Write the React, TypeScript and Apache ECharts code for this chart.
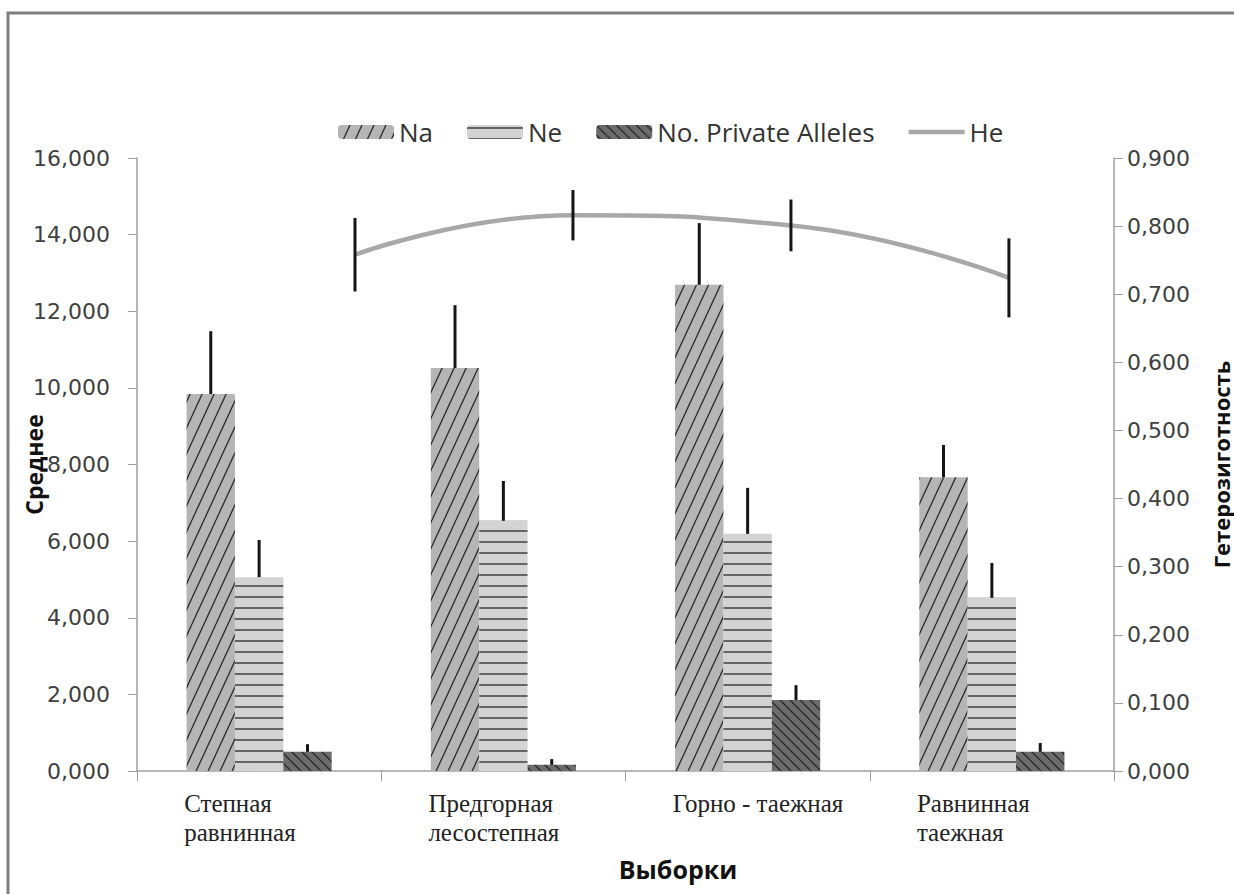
import React, { useEffect, useRef } from 'react';
import * as echarts from 'echarts';

// ---- data ----
const categories = ['Степная\nравнинная', 'Предгорная\nлесостепная', 'Горно - таежная', 'Равнинная\nтаежная'];
const naValues = [9.84, 10.52, 12.69, 7.67];
const naErrors = [1.64, 1.64, 1.61, 0.84];
const neValues = [5.06, 6.53, 6.19, 4.52];
const neErrors = [0.97, 1.04, 1.2, 0.91];
const privateValues = [0.5, 0.16, 1.85, 0.5];
const privateErrors = [0.2, 0.15, 0.39, 0.23];
const hePositions = [1, 2, 3, 4];
const heValues = [0.758, 0.816, 0.801, 0.724];
const heErrors = [0.054, 0.037, 0.038, 0.058];

const BAR_FRAC = 0.198;

function makePattern(w: number, h: number, bg: string, stroke: string, lw: number, draw: (ctx: CanvasRenderingContext2D, w: number, h: number) => void) {
  const s = 4;
  const c = document.createElement('canvas');
  c.width = w * s;
  c.height = h * s;
  const ctx = c.getContext('2d')!;
  ctx.scale(s, s);
  ctx.fillStyle = bg;
  ctx.fillRect(0, 0, w, h);
  ctx.strokeStyle = stroke;
  ctx.lineWidth = lw;
  ctx.beginPath();
  draw(ctx, w, h);
  ctx.stroke();
  return { image: c.toDataURL(), repeat: 'repeat', imageWidth: w, imageHeight: h } as any;
}

const fmt = (v: number) => v.toFixed(3).replace('.', ',');

export default function App() {
  const ref = useRef<HTMLDivElement>(null);
  useEffect(() => {
    if (!ref.current) return;
    const chart = echarts.init(ref.current, undefined, { renderer: 'svg' });

    const naPattern = makePattern(12, 26, '#b5b5b5', '#2a2a2a', 1.3, (ctx, w, h) => {
      for (let k = -1; k <= 1; k++) {
        ctx.moveTo(k * w, h);
        ctx.lineTo(k * w + w, 0);
      }
    });
    const nePattern = makePattern(6, 11, '#d3d3d3', '#1a1a1a', 1.2, (ctx, w) => {
      ctx.moveTo(0, 3);
      ctx.lineTo(w, 3);
    });
    const privPattern = makePattern(10, 10, '#6c6c6c', '#2a2a2a', 1.4, (ctx, w, h) => {
      for (let k = -1; k <= 1; k++) {
        ctx.moveTo(k * w, 0);
        ctx.lineTo(k * w + w, h);
      }
    });

    const errRender = (offset: number) => (params: any, api: any) => {
      const idx = api.value(0);
      const v = api.value(1);
      const e = api.value(2);
      const base = api.coord([idx, v]);
      const top = api.coord([idx, v + e]);
      const bw = api.size([1, 0])[0] * BAR_FRAC;
      const x = base[0] + offset * bw;
      return {
        type: 'line',
        shape: { x1: x, y1: base[1], x2: x, y2: top[1] },
        style: { stroke: '#151515', lineWidth: 3 },
      };
    };

    const heErrRender = (params: any, api: any) => {
      const x = api.value(0);
      const v = api.value(1);
      const e = api.value(2);
      const lo = api.coord([x, v - e]);
      const hi = api.coord([x, v + e]);
      return {
        type: 'line',
        shape: { x1: lo[0], y1: lo[1], x2: hi[0], y2: hi[1] },
        style: { stroke: '#151515', lineWidth: 3 },
      };
    };

    const tickLabel = { fontFamily: 'DejaVu Sans', fontSize: 22, color: '#404040' };
    const titleStyle = { fontFamily: 'Open Sans', fontWeight: 'bold', fontSize: 23, color: '#111' };

    chart.setOption({
      animation: false,
      backgroundColor: '#fff',
      graphic: [
        {
          type: 'rect',
          shape: { x: 8, y: 13, width: 1300, height: 1000 },
          style: { fill: 'none', stroke: '#808080', lineWidth: 3 },
          silent: true,
        },
      ],
      legend: {
        data: [
          'Na',
          'Ne',
          'No. Private Alleles',
          { name: 'He', icon: 'path://M0,0 L60,0 L60,5 L0,5 Z', itemStyle: { color: '#a8a8a8' } },
        ],
        left: 333,
        top: 114,
        itemWidth: 56,
        itemHeight: 14,
        itemGap: 34,
        textStyle: { fontFamily: 'Open Sans', fontSize: 26, color: '#333' },
      },
      grid: { left: 137, right: 120, top: 158, bottom: 123, containLabel: false, outerBoundsMode: 'none' },
      xAxis: [
        {
          type: 'category',
          data: categories,
          axisLine: { lineStyle: { color: '#a0a0a0', width: 1.5 } },
          axisTick: { show: true, length: 10, lineStyle: { color: '#a0a0a0' } },
          axisLabel: {
            interval: 0,
            margin: 18,
            formatter: (v: string) => v.split('\n').map((l) => `{a|${l}}`).join('\n'),
            rich: {
              a: {
                width: 150,
                align: 'left',
                fontFamily: 'Liberation Serif',
                fontSize: 25,
                lineHeight: 29,
                color: '#222',
              },
            },
          },
          name: 'Выборки',
          nameLocation: 'middle',
          nameGap: 85,
          nameTextStyle: { ...titleStyle, fontSize: 25, padding: [0, 0, 0, 105] },
        },
        {
          type: 'value',
          min: 0,
          max: 4.482,
          show: false,
        },
      ],
      yAxis: [
        {
          type: 'value',
          min: 0,
          max: 16,
          interval: 2,
          axisLine: { show: true, lineStyle: { color: '#a0a0a0', width: 1.5 } },
          axisTick: { show: true, length: 9, lineStyle: { color: '#a0a0a0' } },
          splitLine: { show: false },
          axisLabel: { ...tickLabel, margin: 27, formatter: fmt },
          name: 'Среднее',
          nameLocation: 'middle',
          nameRotate: 90,
          nameGap: 92,
          nameMoveOverlap: false,
          nameTextStyle: titleStyle,
        },
        {
          type: 'value',
          min: 0,
          max: 0.9,
          interval: 0.1,
          position: 'right',
          axisLine: { show: true, lineStyle: { color: '#a0a0a0', width: 1.5 } },
          axisTick: { show: true, length: 9, lineStyle: { color: '#a0a0a0' } },
          splitLine: { show: false },
          axisLabel: { ...tickLabel, margin: 13, formatter: fmt },
          name: 'Гетерозиготность',
          nameLocation: 'middle',
          nameRotate: 90,
          nameGap: 95,
          nameMoveOverlap: false,
          nameTextStyle: { ...titleStyle, fontSize: 22, lineHeight: 23 },
        },
      ],
      series: [
        {
          name: 'Na',
          type: 'bar',
          data: naValues,
          barWidth: `${BAR_FRAC * 100}%`,
          barGap: '0%',
          itemStyle: { color: naPattern },
        },
        {
          name: 'Ne',
          type: 'bar',
          data: neValues,
          barWidth: `${BAR_FRAC * 100}%`,
          barGap: '0%',
          itemStyle: { color: nePattern },
        },
        {
          name: 'No. Private Alleles',
          type: 'bar',
          data: privateValues,
          barWidth: `${BAR_FRAC * 100}%`,
          barGap: '0%',
          itemStyle: { color: privPattern },
        },
        {
          name: 'Na err',
          type: 'custom',
          data: naValues.map((v, i) => [i, v, naErrors[i]]),
          encode: { x: 0, y: 1 },
          renderItem: errRender(-1),
          z: 5,
        },
        {
          name: 'Ne err',
          type: 'custom',
          data: neValues.map((v, i) => [i, v, neErrors[i]]),
          encode: { x: 0, y: 1 },
          renderItem: errRender(0),
          z: 5,
        },
        {
          name: 'Private err',
          type: 'custom',
          data: privateValues.map((v, i) => [i, v, privateErrors[i]]),
          encode: { x: 0, y: 1 },
          renderItem: errRender(1),
          z: 5,
        },
        {
          name: 'He',
          type: 'line',
          xAxisIndex: 1,
          yAxisIndex: 1,
          data: hePositions.map((x, i) => [x, heValues[i]]),
          smooth: true,
          symbol: 'none',
          lineStyle: { color: '#a8a8a8', width: 4.5 },
          itemStyle: { color: '#a8a8a8' },
          z: 6,
        },
        {
          name: 'He err',
          type: 'custom',
          xAxisIndex: 1,
          yAxisIndex: 1,
          data: hePositions.map((x, i) => [x, heValues[i], heErrors[i]]),
          encode: { x: 0, y: 1 },
          renderItem: heErrRender,
          z: 7,
        },
      ],
    });
    return () => chart.dispose();
  }, []);
  return <div ref={ref} style={{ position: 'absolute', left: 0, top: 0, width: 1234, height: 894 }} />;
}
